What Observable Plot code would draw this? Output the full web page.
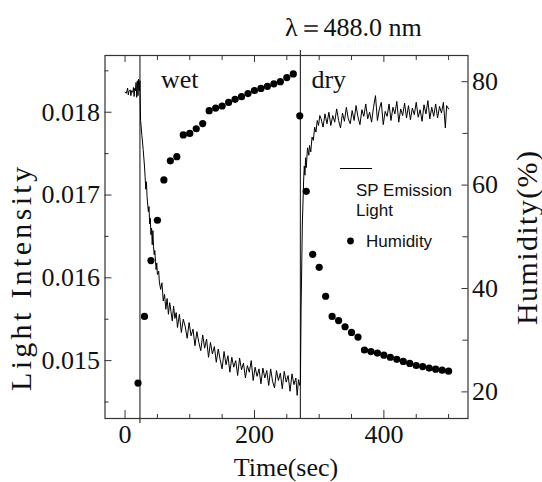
<!DOCTYPE html>
<html><head><meta charset="utf-8">
<script src="https://cdn.jsdelivr.net/npm/d3@7"></script>
<script src="https://cdn.jsdelivr.net/npm/@observablehq/plot@0.6"></script>
<style>body{margin:0;background:#fff}</style>
</head><body><div id="chart"></div>
<script>
// ---- data ----
const lightTime = [
  0,2,4,5,6,8,9,10,12,13,14,15,16,17,18,19,20,21,22,23,
  24,26,28,30,31,32,33,34,36,37,38,39,40,41,42,43,44,45,46,47,48,49,50,
  52,53,55,57,59,61,63,65,67,69,71,73,75,77,79,81,84,87,90,93,96,99,102,105,108,111,114,117,120,123,126,129,132,135,138,141,144,147,150,153,156,159,162,165,168,171,174,177,180,183,186,189,192,195,198,201,204,207,210,213,216,219,222,225,228,231,234,237,240,243,246,249,252,255,258,261,264,266,268,270,
  271,272,274,276,277,278,279,280,282,284,285,287,289,291,293,295,297,299,301,
  303,306,309,312,315,318,321,324,327,330,333,336,339,342,345,348,351,354,357,360,363,366,369,372,375,378,381,384,387,390,393,396,399,402,405,408,411,414,417,420,423,426,429,432,435,438,441,444,447,450,453,456,459,462,465,468,471,474,477,480,483,486,489,492,495,497,500
];
const lightIntensity = [
  0.01824,0.01823,0.01829,0.01821,0.01825,0.01827,0.01820,0.01826,0.01824,0.01830,0.01819,0.01829,0.01826,0.01836,0.01818,0.01838,0.01820,0.01840,0.01826,0.01838,
  0.01790,0.01772,0.01755,0.01735,0.01722,0.01707,0.01716,0.01698,0.01680,0.01686,0.01665,0.01672,0.01652,0.01660,0.01640,0.01657,0.01638,0.01628,0.01633,0.01620,0.01610,0.01618,0.01604,
  0.01608,0.01595,0.01586,0.01594,0.01572,0.01580,0.01562,0.01575,0.01556,0.01570,0.01559,0.01548,0.01566,0.01551,0.01558,0.01540,0.01556,0.01534,0.01550,0.01541,0.01527,0.01546,0.01530,0.01538,0.01518,0.01535,0.01522,0.01512,0.01531,0.01515,0.01526,0.01504,0.01522,0.01508,0.01517,0.01498,0.01514,0.01501,0.01490,0.01511,0.01495,0.01506,0.01486,0.01504,0.01492,0.01500,0.01482,0.01503,0.01489,0.01497,0.01479,0.01494,0.01486,0.01500,0.01476,0.01492,0.01481,0.01490,0.01472,0.01491,0.01479,0.01488,0.01470,0.01490,0.01475,0.01467,0.01488,0.01476,0.01485,0.01466,0.01487,0.01474,0.01482,0.01463,0.01484,0.01471,0.01479,0.01458,0.01477,0.01470,
  0.01474,0.01560,0.01665,0.01718,0.01735,0.01724,0.01745,0.01733,0.01757,0.01748,0.01760,0.01752,0.01770,0.01766,0.01782,0.01776,0.01790,0.01784,0.01796,
  0.01792,0.01782,0.01798,0.01786,0.01800,0.01784,0.01796,0.01788,0.01804,0.01790,0.01781,0.01799,0.01789,0.01806,0.01792,0.01786,0.01802,0.01790,0.01808,0.01794,0.01785,0.01803,0.01795,0.01810,0.01792,0.01800,0.01788,0.01806,0.01820,0.01790,0.01804,0.01812,0.01785,0.01801,0.01795,0.01810,0.01790,0.01806,0.01798,0.01813,0.01788,0.01804,0.01796,0.01811,0.01793,0.01808,0.01791,0.01805,0.01797,0.01812,0.01794,0.01803,0.01789,0.01809,0.01798,0.01814,0.01792,0.01806,0.01795,0.01810,0.01793,0.01807,0.01799,0.01812,0.01781,0.01808,0.01804
];
const humidityTime = [20,30,40,50,60,70,80,90,100,110,120,130,140,150,160,170,180,190,200,210,220,230,240,250,260,
  270,280,290,300,310,320,330,340,350,360,370,380,390,400,410,420,430,440,450,460,470,480,490,500];
const humidityValue = [21.7,34.6,45.4,53.2,61.0,64.7,65.5,69.7,70.0,70.9,71.9,74.4,74.9,75.3,76.0,76.6,77.1,77.7,78.3,78.7,79.1,79.6,80.0,80.8,81.5,
  73.4,58.8,46.6,44.1,38.5,34.6,33.8,32.6,31.5,30.6,28.1,27.8,27.5,27.1,26.7,26.3,25.9,25.5,25.1,24.9,24.6,24.4,24.2,24.0];
const eventTime = [23, 271];
const eventLabel = ["wet", "dry"];
const intensityTicks = [0.015, 0.016, 0.017, 0.018];
const intensityMinorTicks = [0.0145, 0.0155, 0.0165, 0.0175, 0.0185];
const humidityTicks = [20, 40, 60, 80];
const humidityMinorTicks = [30, 50, 70];
const timeTicks = [0, 200, 400];
const timeMinorTicks = [50, 100, 150, 250, 300, 350, 450, 500];
const timeDomain = [-31, 530];
const intensityDomain = [0.014301, 0.018685];
const humidityDomain = [14.85, 85.07];
const titleText = "λ＝488.0 nm";
const xLabel = "Time(sec)";
const yLabel = "Light Intensity";
const y2Label = "Humidity(%)";
const legendLine = "SP Emission";
const legendLine2 = "Light";
const legendDot = "Humidity";

// ---- layout ----
const W = 542, H = 482, mL = 104.5, mR = 74.5, mT = 55, mB = 64;
const innerW = W - mL - mR, innerH = H - mT - mB;
const serif = "'Liberation Serif', 'Times New Roman', serif";
const sans = "'Liberation Sans', Arial, sans-serif";

const hum = d3.scaleLinear(humidityDomain, intensityDomain);
const lightData = lightTime.map((t, i) => ({t, v: lightIntensity[i]}));
const humData = humidityTime.map((t, i) => ({t, h: humidityValue[i]}));
const fmt = d3.format(".3f");

const ink = "#111";
const chart = Plot.plot({
  width: W, height: H,
  marginLeft: mL, marginRight: mR, marginTop: mT, marginBottom: mB,
  style: {fontFamily: serif, fontSize: "26px", color: ink, background: "#fff"},
  x: {domain: timeDomain},
  y: {domain: intensityDomain},
  marks: [
    Plot.frame({stroke: "#333", strokeWidth: 1.2}),
    // inward ticks
    Plot.tickY(intensityTicks, {y: d => d, insetRight: innerW - 7, stroke: "#333"}),
    Plot.tickY(intensityMinorTicks, {y: d => d, insetRight: innerW - 4, stroke: "#333"}),
    Plot.tickY(humidityTicks, {y: d => hum(d), insetLeft: innerW - 6, stroke: "#333"}),
    Plot.tickY(humidityMinorTicks, {y: d => hum(d), insetLeft: innerW - 5, stroke: "#333"}),
    Plot.tickX(timeTicks, {x: d => d, insetTop: innerH - 8, stroke: "#333"}),
    Plot.tickX(timeMinorTicks, {x: d => d, insetTop: innerH - 4, stroke: "#333"}),
    Plot.tickX(timeTicks, {x: d => d, insetBottom: innerH - 7, stroke: "#333"}),
    Plot.tickX(timeMinorTicks, {x: d => d, insetBottom: innerH - 5, stroke: "#333"}),
    // tick labels
    Plot.axisY({ticks: intensityTicks, tickFormat: fmt, tickSize: 0, tickPadding: 5, label: null, fontSize: 26}),
    Plot.axisY({anchor: "right", ticks: humidityTicks.map(hum), tickFormat: d => String(Math.round(hum.invert(d))), tickSize: 0, tickPadding: 4, label: null, fontSize: 26}),
    Plot.axisX({ticks: timeTicks, tickSize: 0, tickPadding: 6, label: null, fontSize: 26}),
    // event rules
    Plot.ruleX([eventTime[0]], {x: d => d, stroke: "#333", strokeWidth: 1.2, insetBottom: -5}),
    Plot.ruleX([eventTime[1]], {x: d => d, stroke: "#333", strokeWidth: 1.2, insetTop: -5}),
    Plot.text([eventLabel[0]], {x: () => eventTime[0], frameAnchor: "top", textAnchor: "start", lineAnchor: "bottom", dx: 21, dy: 32, fontSize: 26, fill: ink}),
    Plot.text([eventLabel[1]], {x: () => eventTime[1], frameAnchor: "top", textAnchor: "start", lineAnchor: "bottom", dx: 11, dy: 32, fontSize: 26, fill: ink}),
    // data
    Plot.line(lightData, {x: "t", y: "v", stroke: "#000", strokeWidth: 1}),
    Plot.dot(humData, {x: "t", y: d => hum(d.h), r: 3.6, fill: "#000", stroke: "none"})
  ]
});

document.getElementById("chart").appendChild(chart);

// titles & legend (decorations)
const svg = d3.select(chart.tagName.toLowerCase() === "svg" ? chart : chart.querySelector("svg"));
const g = svg.append("g").attr("fill", ink).attr("text-anchor", "start");
g.append("text").attr("x", 285).attr("y", 36).attr("text-anchor", "start").attr("font-family", serif).attr("font-size", 26).text(titleText);
g.append("text").attr("x", mL + innerW / 2).attr("y", 476).attr("text-anchor", "middle").attr("font-family", serif).attr("font-size", 26).text(xLabel);
g.append("text").attr("transform", "translate(31,279) rotate(-90)").attr("text-anchor", "middle").attr("font-family", serif).attr("font-size", 30)
  .attr("textLength", 224).attr("lengthAdjust", "spacing").text(yLabel);
g.append("text").attr("transform", "translate(537,238) rotate(-90)").attr("text-anchor", "middle").attr("font-family", serif).attr("font-size", 30)
  .attr("textLength", 174).attr("lengthAdjust", "spacing").text(y2Label);
// legend
g.append("line").attr("x1", 340).attr("x2", 372).attr("y1", 168.5).attr("y2", 168.5).attr("stroke", "#000").attr("stroke-width", 1);
g.append("text").attr("x", 356).attr("y", 196).attr("text-anchor", "start").attr("font-family", sans).attr("font-size", 17).text(legendLine);
g.append("text").attr("x", 356).attr("y", 216).attr("text-anchor", "start").attr("font-family", sans).attr("font-size", 17).text(legendLine2);
g.append("circle").attr("cx", 350.5).attr("cy", 241).attr("r", 3.4).attr("fill", "#000");
g.append("text").attr("x", 366).attr("y", 247).attr("text-anchor", "start").attr("font-family", sans).attr("font-size", 17).text(legendDot);
</script>
</body></html>
